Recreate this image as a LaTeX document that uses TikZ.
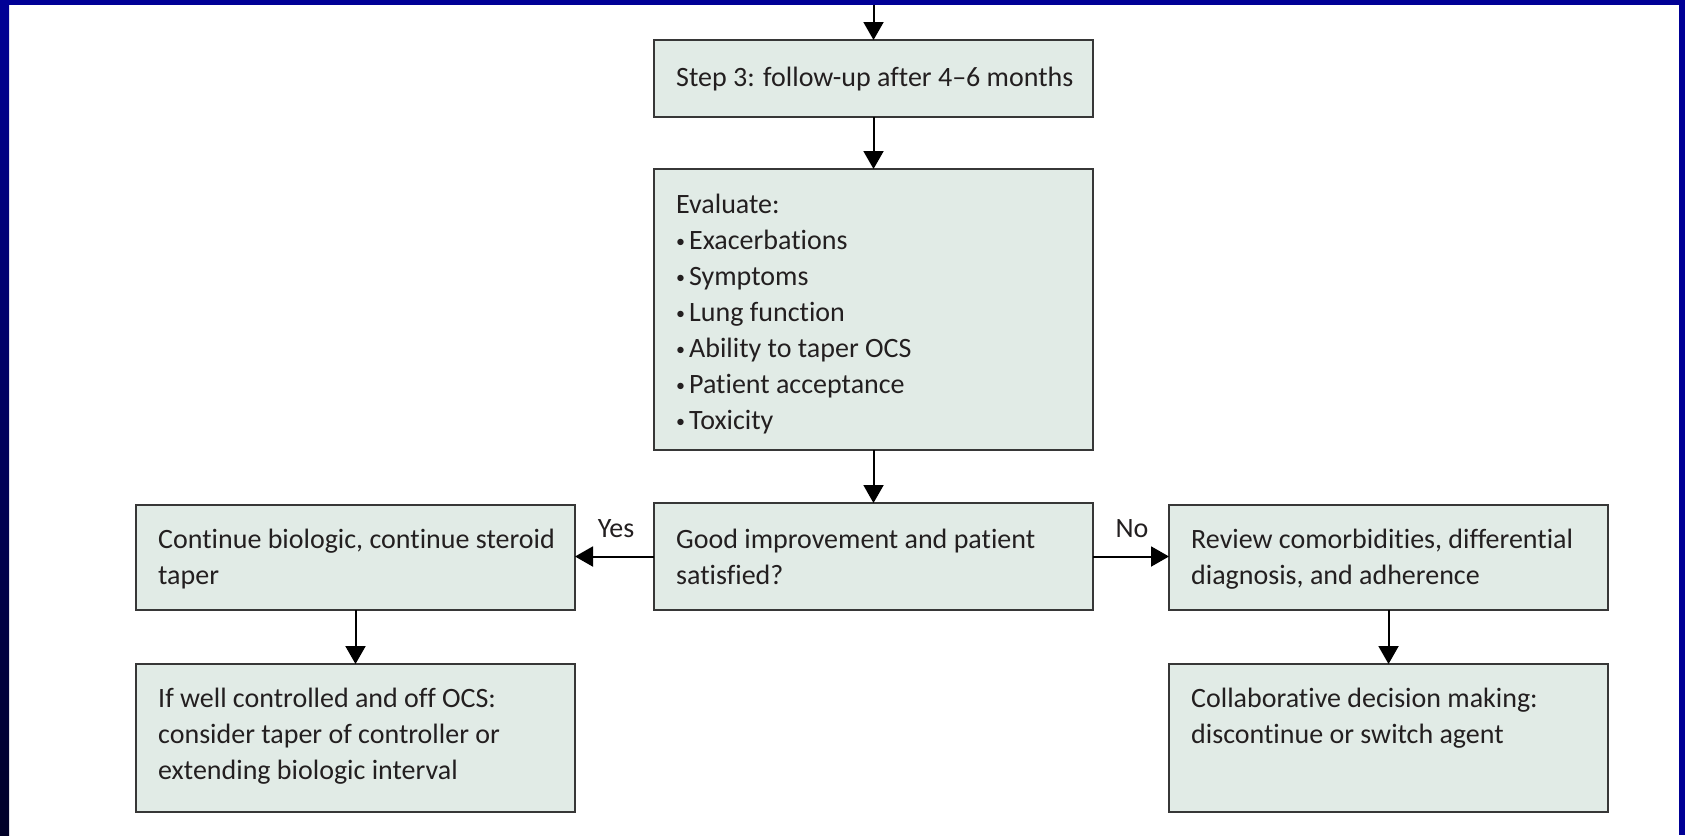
\documentclass[tikz,border=0pt]{standalone}
\usepackage{fontspec}
\setmainfont[Ligatures=NoCommon]{Carlito}
\usetikzlibrary{arrows.meta,calc}
\definecolor{frameblue}{RGB}{0,0,150}
\definecolor{framedark}{RGB}{0,0,40}
\definecolor{boxfill}{RGB}{225,235,230}
\definecolor{boxline}{RGB}{55,55,55}
\definecolor{ink}{RGB}{35,31,32}
% small list bullet
\newcommand\listdot{{\fontsize{18}{36}\selectfont\raisebox{2pt}{•}}\hspace{4pt}}
\begin{document}
\begin{tikzpicture}[x=1pt,y=-1pt,
  box/.style={draw=boxline, fill=boxfill, line width=2pt, inner sep=0pt, outer sep=0pt},
  % base anchor of a multi-line node sits on the baseline of its last line
  txt/.style={anchor=base west, inner sep=0pt, align=left, text=ink, font=\fontsize{28}{36}\selectfont},
  flow/.style={draw=black, line width=2pt, -{Triangle[width=20pt,length=18pt]}},
  lbl/.style={anchor=base, inner sep=0pt, text=ink, font=\fontsize{28}{36}\selectfont}]
\useasboundingbox[fill=white] (0,0) rectangle (1685,835);

% boxes
\node[box, minimum width=439pt, minimum height=77pt]  (step3) at (873.5,78.5) {};
\node[box, minimum width=439pt, minimum height=281pt] (eval)  at (873.5,309.5) {};
\node[box, minimum width=439pt, minimum height=107pt] (good)  at (873.5,556.5) {};
\node[box, minimum width=439pt, minimum height=105pt] (cont)  at (355.5,557.5) {};
\node[box, minimum width=439pt, minimum height=105pt] (rev)   at (1388.5,557.5) {};
\node[box, minimum width=439pt, minimum height=148pt] (taper) at (355.5,738) {};
\node[box, minimum width=439pt, minimum height=148pt] (decide) at (1388.5,738) {};

% box texts
\node[txt] (step3t) at (676,86) {Step 3: follow-up after 4–6 months};
\node[txt] (evalt) at (676,429) {Evaluate:\\\listdot Exacerbations\\\listdot Symptoms\\\listdot Lung function\\\listdot Ability to taper OCS\\\listdot Patient acceptance\\\listdot Toxicity};
\node[txt] (goodt) at (676,584) {Good improvement and patient\\satisfied?};
\node[txt] (contt) at (158,584) {Continue biologic, continue steroid\\taper};
\node[txt] (revt) at (1191,584) {Review comorbidities, differential\\diagnosis, and adherence};
\node[txt] (tapert) at (158,779) {If well controlled and off OCS:\\consider taper of controller or\\extending biologic interval};
\node[txt] (decidet) at (1191,743) {Collaborative decision making:\\discontinue or switch agent};

% branch labels
\node[lbl] (yes) at (616,537) {Yes};
\node[lbl] (no) at (1132,537) {No};

% connectors
\coordinate (entry) at (873.5,5);
\draw[flow] (entry) -- (step3.north);
\draw[flow] (step3.south) -- (eval.north);
\draw[flow] (eval.south) -- (good.north);
\draw[flow] (good.west) -- (good.west -| cont.east);
\draw[flow] (good.east) -- (good.east -| rev.west);
\draw[flow] (cont.south) -- (taper.north);
\draw[flow] (rev.south) -- (decide.north);

% slide frame
\fill[frameblue] (0,0) rectangle (1685,5);
\shade[top color=frameblue, bottom color=framedark] (0,0) rectangle (9,835);
\fill[frameblue] (1679,0) rectangle (1685,835);
\end{tikzpicture}
\end{document}
